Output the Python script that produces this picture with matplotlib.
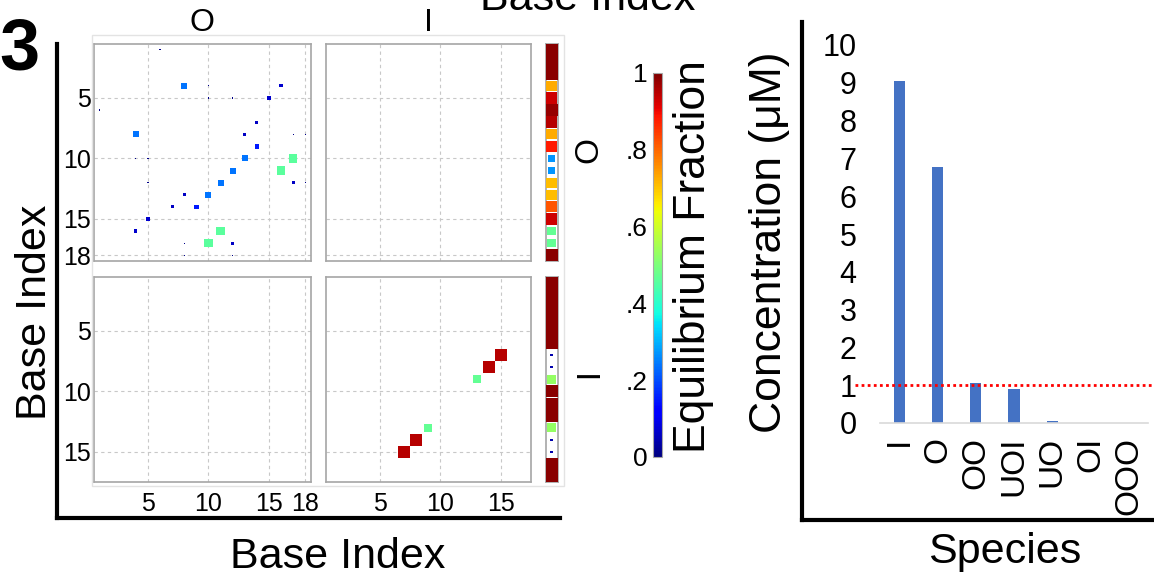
"""
O / I strand pair-probability dot plots + equilibrium concentration bar chart.
"""

import numpy as np
import matplotlib
matplotlib.use("Agg")
import matplotlib.pyplot as plt
from matplotlib.patches import Rectangle
from matplotlib.cm import ScalarMappable
from matplotlib.colors import Normalize

plt.rcParams['font.family'] = ['Liberation Sans', 'DejaVu Sans']

W, H = 1154, 579

# ---- data ----
strands = ["O", "I"]
strand_len = {"O": 18, "I": 17}
strand_ticks = {"O": [5, 10, 15, 18], "I": [5, 10, 15]}

# O-O base pair probabilities (i < j), drawn mirrored
oo_i = [1, 4, 4, 4, 5, 5, 5, 7, 8, 8, 8, 9, 10, 10, 11, 11, 12, 12]
oo_j = [6, 8, 10, 16, 10, 12, 15, 14, 13, 17, 18, 14, 13, 17, 12, 16, 17, 18]
oo_p = [0.01, 0.24, 0.01, 0.07, 0.01, 0.01, 0.07, 0.06, 0.06, 0.01, 0.01,
        0.15, 0.24, 0.46, 0.24, 0.46, 0.06, 0.01]

# I-I base pair probabilities
ii_i = [7, 8, 9]
ii_j = [15, 14, 13]
ii_p = [0.95, 0.95, 0.47]

# unpaired probability per base
unpaired_O = [0.99, 0.99, 0.99, 0.73, 0.93, 0.98, 0.95, 0.73, 0.88, 0.27,
              0.27, 0.71, 0.71, 0.82, 0.93, 0.47, 0.47, 0.99]
unpaired_I = [0.99, 0.99, 0.99, 0.99, 0.99, 0.99, 0.04, 0.04, 0.53, 0.99,
              0.99, 0.99, 0.53, 0.04, 0.04, 0.99, 0.99]

species = ["I", "O", "OO", "UOI", "UO", "OI", "OOO"]
conc = [9.05, 6.78, 1.07, 0.91, 0.04, 0.01, 0.0]
threshold = 1.0

cmap = plt.get_cmap("jet")
GRID_C = "#c8c8c8"
FRAME_C = "#a6a6a6"


def px_axes(fig, x0, y0, x1, y1, **kw):
    return fig.add_axes([x0 / W, 1 - y1 / H, (x1 - x0) / W, (y1 - y0) / H], **kw)


def add_square(ax, x, y, p):
    s = np.sqrt(p)
    ax.add_patch(Rectangle((x - s / 2, y - s / 2), s, s, facecolor=cmap(p),
                           edgecolor="none", zorder=3))


def setup_panel(ax, row_s, col_s, show_x, show_y):
    ax.set_xlim(0.5, strand_len[col_s] + 0.5)
    ax.set_ylim(strand_len[row_s] + 0.5, 0.5)
    ax.set_xticks(strand_ticks[col_s])
    ax.set_yticks(strand_ticks[row_s])
    ax.grid(True, ls=(0, (3, 3)), color=GRID_C, lw=0.8)
    ax.set_axisbelow(True)
    ax.tick_params(length=0, labelsize=18)
    ax.tick_params(axis="x", pad=7)
    ax.tick_params(axis="y", pad=2)
    ax.tick_params(labelbottom=show_x, labelleft=show_y)
    for sp in ax.spines.values():
        sp.set_color(FRAME_C)
        sp.set_linewidth(1.2)


def setup_strip(ax, n, vals):
    ax.set_xlim(0.5, 1.5)
    ax.set_ylim(n + 0.5, 0.5)
    ax.set_xticks([])
    ax.set_yticks([])
    for sp in ax.spines.values():
        sp.set_color(FRAME_C)
        sp.set_linewidth(1.2)
    for k, p in enumerate(vals, start=1):
        add_square(ax, 1, k, p)


def l_frame(fig, x0, y0, x1, y1):
    ax = px_axes(fig, x0, y0, x1, y1, zorder=0)
    ax.patch.set_alpha(0)
    ax.set_xticks([])
    ax.set_yticks([])
    ax.spines[["top", "right"]].set_visible(False)
    for s in ["left", "bottom"]:
        ax.spines[s].set_linewidth(3)
        ax.spines[s].set_color("black")
    return ax


def main():
    fig = plt.figure(figsize=(W / 100, H / 100), dpi=100)

    # black L frames
    l_frame(fig, 57, 44, 560, 518)
    l_frame(fig, 802, 22, 1170, 520)

    # faint box round the dot plots
    fig.add_artist(Rectangle((92 / W, 1 - 486 / H), (564 - 92) / W, (486 - 35) / H,
                             transform=fig.transFigure, fill=False,
                             ec="#e3e3e3", lw=1))

    u = 12.1
    col_x = {"O": 93.5, "I": 325.5}
    row_y = {"O": 43.5, "I": 276.5}

    axes = {}
    for r in strands:
        for c in strands:
            x0, y0 = col_x[c], row_y[r]
            ax = px_axes(fig, x0, y0, x0 + strand_len[c] * u, y0 + strand_len[r] * u)
            setup_panel(ax, r, c, show_x=(r == "I"), show_y=(c == "O"))
            axes[(r, c)] = ax
        ax_s = px_axes(fig, 545.5, row_y[r], 545.5 + u, row_y[r] + strand_len[r] * u)
        setup_strip(ax_s, strand_len[r], unpaired_O if r == "O" else unpaired_I)

    for i, j, p in zip(oo_i, oo_j, oo_p):
        add_square(axes[("O", "O")], j, i, p)
        add_square(axes[("O", "O")], i, j, p)
    for i, j, p in zip(ii_i, ii_j, ii_p):
        add_square(axes[("I", "I")], j, i, p)
        add_square(axes[("I", "I")], i, j, p)

    axes[("O", "O")].set_title("O", fontsize=23, pad=9)
    axes[("O", "I")].set_title("I", fontsize=23, pad=9)

    fig.text(581 / W, 1 - 152 / H, "O", rotation=-90, fontsize=24, ha="center", va="center")
    fig.text(581 / W, 1 - 379 / H, "I", rotation=-90, fontsize=24, ha="center", va="center")

    # colorbar
    cax = px_axes(fig, 653, 73, 662, 457)
    cb = fig.colorbar(ScalarMappable(norm=Normalize(0, 1), cmap=cmap), cax=cax)
    cb.set_ticks([0, 0.2, 0.4, 0.6, 0.8, 1.0])
    cb.set_ticklabels(["0", ".2", ".4", ".6", ".8", "1"])
    cax.yaxis.set_ticks_position("left")
    cax.tick_params(length=0, labelsize=19, pad=4)
    cb.outline.set_edgecolor(FRAME_C)
    cb.outline.set_linewidth(0.8)
    fig.text(693 / W, 1 - 257 / H, "Equilibrium Fraction", rotation=90,
             fontsize=32, ha="center", va="center")

    fig.text(35 / W, 1 - 312 / H, "Base Index", rotation=90, fontsize=31,
             ha="center", va="center")
    fig.text(338 / W, 1 - 557 / H, "Base Index", fontsize=31, ha="center", va="center")
    fig.text(480 / W, 1 - 10 / H, "Base Index", fontsize=31, ha="left", va="baseline")
    fig.text(-1 / W, 1 - 69 / H, "3", fontsize=52, fontweight="bold",
             ha="left", va="baseline")

    # bar chart
    axb = px_axes(fig, 880, 45, 1148, 423)
    x = np.arange(len(species))
    axb.bar(x, conc, width=0.29, color="#4472C4", zorder=2)
    axb.axhline(threshold, xmin=-0.093, xmax=1.03, color="red", ls=(0, (1, 1.2)),
                lw=2, clip_on=False, zorder=3)
    axb.set_xlim(-0.5, len(species) - 0.5)
    axb.set_ylim(0, 10)
    axb.set_yticks(range(11))
    axb.set_xticks(x, species, rotation=90)
    axb.tick_params(axis="y", length=0, labelsize=22, pad=17)
    axb.tick_params(axis="x", length=0, labelsize=24, pad=10)
    axb.spines[["top", "right", "left"]].set_visible(False)
    axb.spines["bottom"].set_color("#d9d9d9")
    axb.spines["bottom"].set_linewidth(1.2)
    axb.patch.set_alpha(0)

    fig.text(770 / W, 1 - 242 / H, "Concentration (μM)", rotation=90, fontsize=32,
             ha="center", va="center")
    fig.text(1005 / W, 1 - 552 / H, "Species", fontsize=31, ha="center", va="center")

    fig.savefig("out.png", dpi=100)


if __name__ == "__main__":
    main()
